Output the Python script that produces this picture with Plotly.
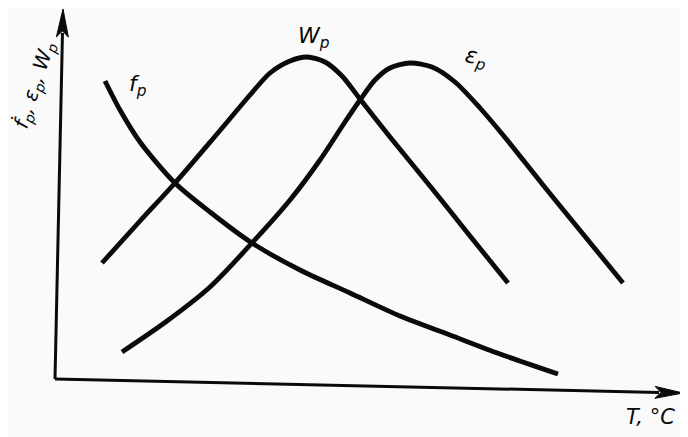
import math
import plotly.graph_objects as go

# ---- data (T and value in arbitrary drawing units) ----
T_fp = [105, 120, 140, 175, 210, 252, 300, 350, 400, 450, 500, 558]
fp   = [356, 327, 295, 254, 225, 194, 167, 144, 121, 102, 83, 63]

T_wp = [102, 140, 175, 217, 250, 270, 290, 307, 325, 342, 360, 390, 430, 470, 508]
wp   = [174, 216, 254, 303, 342, 364, 376, 380, 375, 361, 338, 300, 251, 201, 154]

T_ep = [122, 167, 210, 252, 290, 320, 345, 360, 375, 390, 410, 432, 455, 480, 503, 543, 583, 623]
ep   = [85, 116, 150, 194, 237, 277, 315, 337, 357, 369, 374, 370, 355, 329, 302, 252, 203, 154]

# axes (origin, ends) of the hand-drawn frame
axis_origin = (55, 58)
y_axis_tip = (63, 428)
x_axis_tip = (683, 44)

INK = "#0a0a0a"
BG = "#fafafa"
FONT = "DejaVu Sans"

fig = go.Figure()
for T, v, name in [(T_fp, fp, "fp"), (T_wp, wp, "Wp"), (T_ep, ep, "ep")]:
    fig.add_trace(go.Scatter(x=T, y=v, mode="lines", name=name,
                             line=dict(color=INK, width=4.8, shape="spline", smoothing=0.8),
                             hoverinfo="skip", showlegend=False))


def arrow_shapes(tail, tip, L=28, W=12):
    dx, dy = tip[0] - tail[0], tip[1] - tail[1]
    n = math.hypot(dx, dy)
    ux, uy = dx / n, dy / n
    bx, by = tip[0] - ux * L, tip[1] - uy * L
    px, py = -uy, ux
    p1 = (bx + px * W / 2, by + py * W / 2)
    p2 = (bx - px * W / 2, by - py * W / 2)
    line = dict(type="line", x0=tail[0], y0=tail[1], x1=bx + ux * 4, y1=by + uy * 4,
                line=dict(color=INK, width=3), layer="above")
    head = dict(type="path",
                path=f"M {tip[0]},{tip[1]} L {p1[0]},{p1[1]} L {bx + ux * 6},{by + uy * 6} L {p2[0]},{p2[1]} Z",
                fillcolor=INK, line=dict(color=INK, width=1), layer="above")
    return [line, head]


shapes = arrow_shapes(axis_origin, y_axis_tip) + arrow_shapes(axis_origin, x_axis_tip)

annotations = [
    dict(x=35, y=352, text="<i>ḟ<sub>p</sub>, ε<sub>p</sub>, W<sub>p</sub></i>", textangle=-72,
         font=dict(size=20)),
    dict(x=138, y=352, text="<i>f<sub>p</sub></i>", font=dict(size=22)),
    dict(x=314, y=400, text="<i>W<sub>p</sub></i>", font=dict(size=22)),
    dict(x=476, y=379, text="<i>ε<sub>p</sub></i>", textangle=12, font=dict(size=22)),
    dict(x=650, y=20, text="<i>T, °C</i>", font=dict(size=21)),
]
for a in annotations:
    a.update(xref="x", yref="y", showarrow=False)
    a["font"].update(family=FONT, color=INK)

# the page body has an 8px margin, so the figure covers page pixels 8..688 / 8..437
fig.update_layout(
    width=680, height=429,
    margin=dict(l=0, r=0, t=0, b=0),
    paper_bgcolor=BG, plot_bgcolor=BG,
    xaxis=dict(range=[8, 688], visible=False, fixedrange=True),
    yaxis=dict(range=[0, 429], visible=False, fixedrange=True),
    shapes=shapes,
    annotations=annotations,
)

fig.write_html("out.html")
